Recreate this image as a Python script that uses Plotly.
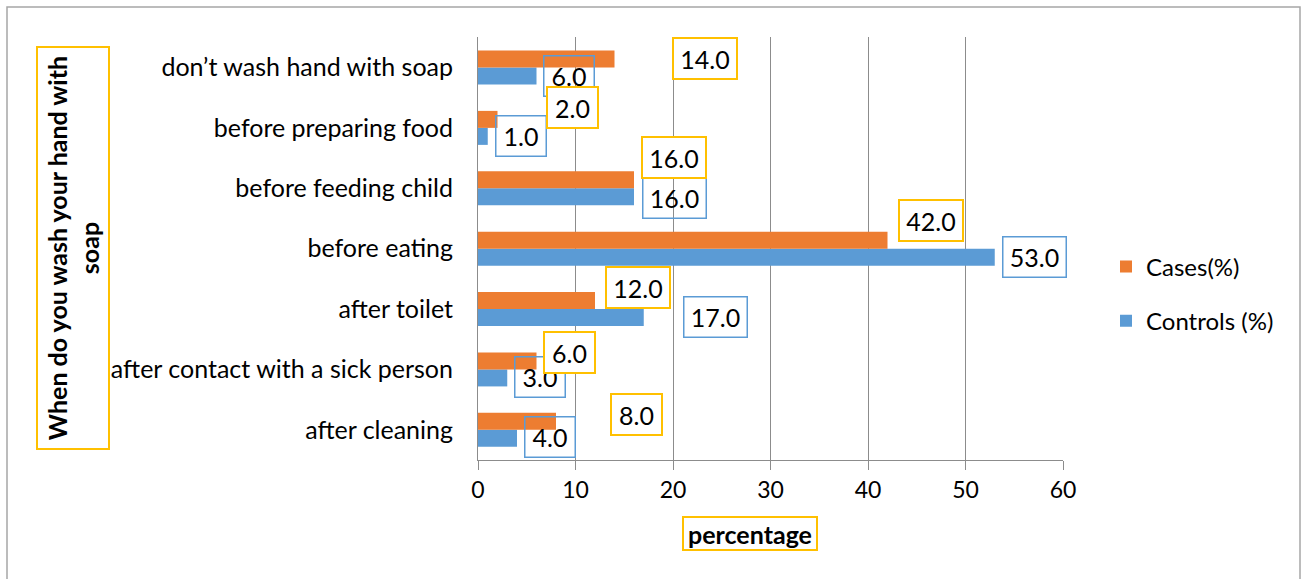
import plotly.graph_objects as go

# ---- data (top category first) ----
categories = [
    "don’t wash hand with soap",
    "before preparing food",
    "before feeding child",
    "before eating",
    "after toilet",
    "after contact with a sick person",
    "after cleaning",
]
cases = [14.0, 2.0, 16.0, 42.0, 12.0, 6.0, 8.0]
controls = [6.0, 1.0, 16.0, 53.0, 17.0, 3.0, 4.0]
x_ticks = [0, 10, 20, 30, 40, 50, 60]

# ---- label offsets (pixels from bar end / category centre) ----
cases_dx = [90, 75, 40, 43, 43, 33, 80]
cases_dy = [-9, -20, -31, -28, -22, -17, -15]
controls_dx = [32, 33, 40, 40, 72, 33, 33]
controls_dy = [8, 8, 10, 8, 8, 8, 7]

ORANGE = "#ED7D31"
BLUE = "#5B9BD5"
GOLD = "#FFC000"
GRID = "#8C8C8C"
FONT = "Lato"

L, R, T, B = 478, 1063, 37, 460
W, H = 1306, 579

def px2paper_x(px):
    return (px - L) / (R - L)

def px2paper_y(py):
    return (B - py) / (B - T)

fig = go.Figure()
fig.add_trace(go.Bar(
    y=categories, x=controls, orientation="h", name="Controls (%)",
    marker=dict(color=BLUE, line=dict(width=0)), legendgroup="b", legendrank=2,
))
fig.add_trace(go.Bar(
    y=categories, x=cases, orientation="h", name="Cases(%)",
    marker=dict(color=ORANGE, line=dict(width=0)), legendgroup="a", legendrank=1,
))

annotations = []
# controls labels (unfilled, drawn first)
for c, v, dx, dy in zip(categories, controls, controls_dx, controls_dy):
    txt = f"{v:.1f}"
    annotations.append(dict(
        x=v, y=c, xref="x", yref="y", text=txt, showarrow=False,
        xshift=dx, yshift=-dy, font=dict(family=FONT, size=25, color="black"),
        bordercolor=BLUE, borderwidth=1.5, borderpad=0,
        width=(62 if len(txt) > 3 else 49), height=39,
    ))
# cases labels (white filled)
for c, v, dx, dy in zip(categories, cases, cases_dx, cases_dy):
    txt = f"{v:.1f}"
    annotations.append(dict(
        x=v, y=c, xref="x", yref="y", text=txt, showarrow=False,
        xshift=dx, yshift=-dy, font=dict(family=FONT, size=25, color="black"),
        bordercolor=GOLD, borderwidth=2, borderpad=0, bgcolor="white",
        width=(62 if len(txt) > 3 else 49), height=39,
    ))

# y axis title box
annotations.append(dict(
    x=px2paper_x(73), y=px2paper_y(248), xref="paper", yref="paper",
    text="<b>When do you wash your hand with<br>soap</b>", showarrow=False,
    textangle=-90, font=dict(family=FONT, size=25, color="black"),
    bordercolor=GOLD, borderwidth=2, borderpad=0, width=400, height=70,
    xanchor="center", yanchor="middle",
))
# x axis title box
annotations.append(dict(
    x=px2paper_x(750), y=px2paper_y(533.5), xref="paper", yref="paper",
    text="<b>percentage</b>", showarrow=False,
    font=dict(family=FONT, size=25, color="black"),
    bordercolor=GOLD, borderwidth=2, borderpad=0, width=132, height=31,
    xanchor="center", yanchor="middle",
))

shapes = [dict(
    type="rect", xref="paper", yref="paper",
    x0=px2paper_x(7), x1=px2paper_x(1300), y0=px2paper_y(7), y1=px2paper_y(620),
    line=dict(color="#A6A6A6", width=1.5), layer="below",
)]

fig.update_layout(
    width=W, height=H,
    margin=dict(l=L, r=W - R, t=T, b=H - B, autoexpand=False),
    paper_bgcolor="white", plot_bgcolor="white",
    barmode="group", bargap=0.437, bargroupgap=0,
    font=dict(family=FONT, size=23, color="black"),
    xaxis=dict(
        range=[0, 60], tickvals=x_ticks, ticktext=[str(t) for t in x_ticks],
        showgrid=True, gridcolor=GRID, gridwidth=1, zeroline=False,
        showline=True, linecolor=GRID, linewidth=1,
        ticks="outside", ticklen=9, tickcolor=GRID, tickwidth=1,
        tickfont=dict(family=FONT, size=23), fixedrange=True,
    ),
    yaxis=dict(
        categoryorder="array", categoryarray=categories[::-1],
        showgrid=False, zeroline=False, showline=True, linecolor=GRID, linewidth=1,
        ticks="", ticklabelstandoff=19, tickfont=dict(family=FONT, size=25),
        fixedrange=True,
    ),
    legend=dict(
        x=px2paper_x(1106), y=px2paper_y(294), xanchor="left", yanchor="middle",
        traceorder="grouped", tracegroupgap=20,
        font=dict(family=FONT, size=24), bgcolor="rgba(0,0,0,0)",
    ),
    annotations=annotations, shapes=shapes, showlegend=True,
)

fig.write_html("out.html")
